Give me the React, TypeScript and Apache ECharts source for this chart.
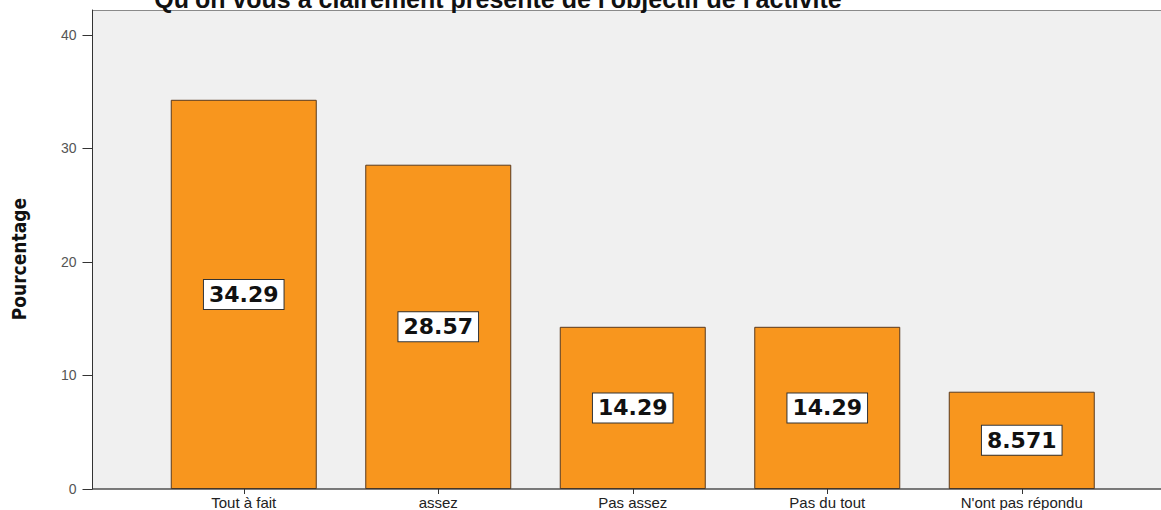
import React, { useEffect, useRef } from "react";
import * as echarts from "echarts";

const titleText = "Qu'on vous a clairement présenté de l'objectif de l'activité";
const categories = ["Tout à fait", "assez", "Pas assez", "Pas du tout", "N'ont pas répondu"];
const values = [34.29, 28.57, 14.29, 14.29, 8.571];
const valueLabels = ["34.29", "28.57", "14.29", "14.29", "8.571"];
const yTicks = [0, 10, 20, 30, 40];
const yName = "Pourcentage";

export default function App() {
  const ref = useRef<HTMLDivElement>(null);
  useEffect(() => {
    if (!ref.current) return;
    const chart = echarts.init(ref.current, undefined, { renderer: "svg" });
    chart.setOption({
      animation: false,
      backgroundColor: "#ffffff",
      title: {
        text: titleText,
        left: 493,
        textAlign: "center",
        top: -19,
        textStyle: {
          fontFamily: "Liberation Sans, Arial, sans-serif",
          fontWeight: "bold",
          fontSize: 25,
          color: "#111",
        },
      },
      graphic: [
        {
          type: "rect",
          z: -10,
          silent: true,
          shape: { x: 92.5, y: 10.5, width: 1080, height: 478.5 },
          style: { fill: "#f0f0f0", stroke: "#8a8a8a", lineWidth: 1 },
        },
        {
          type: "line",
          z: 10,
          silent: true,
          shape: { x1: 92, y1: 489, x2: 1161, y2: 489 },
          style: { stroke: "#333", lineWidth: 1 },
        },
        {
          type: "text",
          left: 9,
          top: 198,
          rotation: Math.PI / 2,
          style: {
            text: yName,
            fontFamily: "Liberation Sans Narrow, DejaVu Sans Condensed, sans-serif",
            fontWeight: "bold",
            fontSize: 19,
            fill: "#111",
          },
        },
      ],
      grid: { left: 146.5, right: 42, top: 10, bottom: 21 },
      xAxis: {
        type: "category",
        data: categories,
        axisLine: { show: false },
        axisTick: { show: true, alignWithLabel: true, length: 5, lineStyle: { color: "#333" } },
        axisLabel: {
          margin: 6,
          fontFamily: "Liberation Sans, Arial, sans-serif",
          fontSize: 15,
          color: "#222",
          interval: 0,
        },
      },
      yAxis: {
        type: "value",
        min: 0,
        max: 42.2,
        interval: 10,
        offset: 54,
        splitLine: { show: false },
        axisLine: { show: true, lineStyle: { color: "#333" } },
        axisTick: { show: true, length: 10, lineStyle: { color: "#333" }, customValues: yTicks },
        axisLabel: {
          margin: 16,
          fontFamily: "Liberation Sans, Arial, sans-serif",
          fontSize: 14,
          color: "#555",
          customValues: yTicks,
        },
      },
      series: [
        {
          type: "bar",
          data: values,
          barWidth: 146,
          itemStyle: { color: "#f8961e", borderColor: "#5a3a1e", borderWidth: 1 },
          label: {
            show: true,
            position: "inside",
            formatter: (p: any) => valueLabels[p.dataIndex],
            backgroundColor: "#ffffff",
            borderColor: "#333",
            borderWidth: 1,
            padding: [4, 5, 3, 5],
            fontFamily: "DejaVu Sans, sans-serif",
            fontWeight: "bold",
            fontSize: 22,
            color: "#111",
          },
        },
      ],
    });
    return () => chart.dispose();
  }, []);
  return (
    <div
      ref={ref}
      style={{ position: "fixed", left: 0, top: 0, width: 1161, height: 510 }}
    />
  );
}
